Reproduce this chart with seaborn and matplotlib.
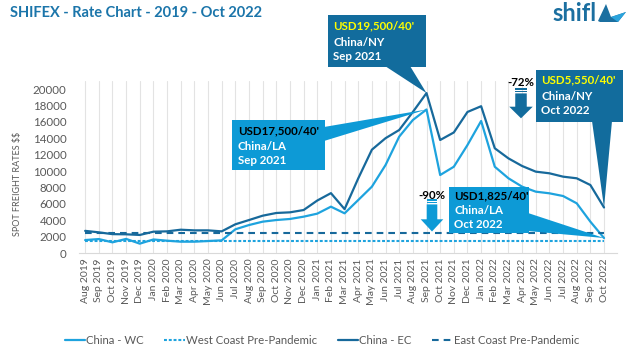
import numpy as np
import pandas as pd
import matplotlib
matplotlib.use('Agg')
import matplotlib.pyplot as plt
import seaborn as sns
from matplotlib.patches import Polygon, Rectangle

# Monthly spot rates (USD / 40')
months = ['Aug 2019', 'Sep 2019', 'Oct 2019', 'Nov 2019', 'Dec 2019', 'Jan 2020', 'Feb 2020',
          'Mar 2020', 'Apr 2020', 'May 2020', 'Jun 2020', 'Jul 2020', 'Aug 2020', 'Sep 2020',
          'Oct 2020', 'Nov 2020', 'Dec 2020', 'Jan 2021', 'Feb 2021', 'Mar 2021', 'Apr 2021',
          'May 2021', 'Jun 2021', 'Jul 2021', 'Aug 2021', 'Sep 2021', 'Oct 2021', 'Nov 2021',
          'Dec 2021', 'Jan 2022', 'Feb 2022', 'Mar 2022', 'Apr 2022', 'May 2022', 'Jun 2022',
          'Jul 2022', 'Aug 2022', 'Sep 2022', 'Oct 2022']
china_wc = [1580, 1700, 1300, 1720, 1140, 1650, 1500, 1380, 1380, 1460, 1540, 2890, 3410,
            3820, 4020, 4150, 4430, 4800, 5650, 4840, 6460, 8090, 10730, 14190, 16220, 17500,
            9510, 10520, 13170, 16100, 10520, 9110, 8090, 7480, 7280, 6950, 6060, 3820, 1825]
china_ec = [2700, 2520, 2300, 2280, 2200, 2600, 2640, 2840, 2760, 2760, 2640, 3500, 4020,
            4550, 4880, 4960, 5240, 6400, 7300, 5350, 9100, 12600, 14000, 15000, 17200, 19500,
            13780, 14700, 17200, 17900, 12770, 11540, 10610, 9920, 9720, 9310, 9110, 8290, 5550]
wc_pre_pandemic = 1500
ec_pre_pandemic = 2500
yticks = list(range(0, 20001, 2000))

LIGHT = '#1ea3de'
DARK = '#17699b'
BOX_LIGHT = '#0d9ad6'
BOX_DARK = '#126c9d'
GRAY = '#595959'

sns.set_style('white')
plt.rcParams['font.family'] = ['Lato', 'DejaVu Sans']

W, H = 638, 355
fig = plt.figure(figsize=(W / 100, H / 100), dpi=100)
ax = fig.add_axes([79 / W, 1 - 253 / H, 538 / W, (253 - 80.8) / H])

df = pd.DataFrame({'idx': range(len(months)), 'month': months,
                   'wc': china_wc, 'ec': china_ec,
                   'wc_pre': wc_pre_pandemic, 'ec_pre': ec_pre_pandemic})

sns.lineplot(data=df, x='idx', y='wc', color=LIGHT, lw=1.6, label='China - WC', ax=ax)
sns.lineplot(data=df, x='idx', y='wc_pre', color=LIGHT, lw=1.5, linestyle=(0, (1.4, 0.9)),
             label='West Coast Pre-Pandemic', ax=ax)
sns.lineplot(data=df, x='idx', y='ec', color=DARK, lw=1.6, label='China - EC', ax=ax)
sns.lineplot(data=df, x='idx', y='ec_pre', color=DARK, lw=1.5, linestyle=(0, (3.2, 2.4)),
             label='East Coast Pre-Pandemic', ax=ax)

ax.set_xlim(-0.45, 38.95)
ax.set_ylim(0, 21000)
ax.set_yticks(yticks)
ax.set_yticklabels([str(v) for v in yticks], fontsize=8.3, color=GRAY)
ax.set_xticks(df['idx'])
ax.set_xticklabels(months, rotation=90, fontsize=7.5, color=GRAY)
ax.tick_params(axis='x', length=0, pad=4)
ax.tick_params(axis='y', length=0, pad=9)
ax.set_xlabel('')
ax.set_ylabel('')
ax.grid(axis='x', color='#e3e3e3', lw=0.8)
ax.grid(axis='y', visible=False)
ax.set_axisbelow(True)
for s in ['left', 'top', 'right']:
    ax.spines[s].set_visible(False)
ax.spines['bottom'].set_color('#d9d9d9')

ax.legend(loc='center', bbox_to_anchor=(322 / W, 1 - 340 / H), bbox_transform=fig.transFigure,
          ncol=4, frameon=False, fontsize=8.2, handlelength=1.8, handletextpad=0.1,
          columnspacing=1.8, labelcolor=GRAY)

fig.text(10 / W, 1 - 13 / H, 'SHIFEX - Rate Chart - 2019 - Oct 2022', fontsize=10.5,
         fontweight='bold', color='#1b75aa', va='center', ha='left')
fig.text(18 / W, 1 - 184 / H, r'SPOT FREIGHT RATES \$\$', rotation=90, fontsize=6.5,
         color=GRAY, va='center', ha='center')


def px(x, y):
    return (x / W, 1 - y / H)


def point_px(i, v):
    dx, dy = ax.transData.transform((i, v))
    return dx, H - dy


def callout(box, base, tip, face, lines, first_color, text_x, text_ys):
    x0, y0, x1, y1 = box
    fig.add_artist(Rectangle(px(x0, y1), (x1 - x0) / W, (y1 - y0) / H, transform=fig.transFigure,
                             facecolor=face, edgecolor='none', zorder=5))
    fig.add_artist(Polygon([px(*base[0]), px(*base[1]), px(*tip)], closed=True,
                           transform=fig.transFigure, facecolor=face, edgecolor='none', zorder=5))
    for k, (txt, ty) in enumerate(zip(lines, text_ys)):
        fig.text(text_x / W, 1 - ty / H, txt, fontsize=8.3, fontweight='bold',
                 color=first_color if k == 0 else 'white', va='center', ha='left', zorder=6)


def down_arrow(cx, top, shaft_w, head_w, head_top, bottom, color):
    hw, hh = shaft_w / 2, head_w / 2
    fig.add_artist(Rectangle(px(cx - hw, top + 1.6), shaft_w / W, 1.6 / H, transform=fig.transFigure,
                             facecolor=color, edgecolor='none', zorder=5))
    fig.add_artist(Rectangle(px(cx - hw, top + 4.4), shaft_w / W, 1.6 / H, transform=fig.transFigure,
                             facecolor=color, edgecolor='none', zorder=5))
    fig.add_artist(Polygon([px(cx - hw, top + 5.4), px(cx + hw, top + 5.4), px(cx + hw, head_top),
                            px(cx + hh, head_top), px(cx, bottom), px(cx - hh, head_top),
                            px(cx - hw, head_top)], closed=True, transform=fig.transFigure,
                           facecolor=color, edgecolor='none', zorder=5))


sep21 = months.index('Sep 2021')
oct22 = months.index('Oct 2022')

callout((328, 15, 426, 67), [(385, 66), (410, 66)], point_px(sep21, china_ec[sep21]), BOX_DARK,
        ["USD19,500/40'", 'China/NY', 'Sep 2021'], '#ffff00', 333, [26, 42, 57])
callout((232, 120, 325, 170), [(324, 127), (324, 141)], point_px(sep21, china_wc[sep21]), BOX_LIGHT,
        ["USD17,500/40'", 'China/LA', 'Sep 2021'], 'black', 238, [131, 146, 160])
callout((536, 70, 623, 122), [(592, 121), (612, 121)], point_px(oct22, china_ec[oct22]), BOX_DARK,
        ["USD5,550/40'", 'China/NY', 'Oct 2022'], '#ffff00', 541, [80, 96, 110])
callout((449, 187, 529, 233), [(528, 213), (528, 231)], point_px(oct22, china_wc[oct22]), BOX_LIGHT,
        ["USD1,825/40'", 'China/LA', 'Oct 2022'], 'black', 454, [196, 211, 224])

down_arrow(432, 199, 10.6, 22.6, 219.3, 231.5, BOX_LIGHT)
fig.text(432 / W, 1 - 195 / H, '-90%', fontsize=8.3, fontweight='bold', color='black',
         ha='center', va='center')
down_arrow(521, 88, 11.5, 23.5, 106.7, 118.3, BOX_DARK)
fig.text(521 / W, 1 - 83 / H, '-72%', fontsize=8.3, fontweight='bold', color='black',
         ha='center', va='center')

# shifl logo
fig.text(552 / W, 1 - 21 / H, 'shifl', fontsize=17, fontweight='bold', color='#1b6fa0',
         ha='left', va='baseline')
fig.add_artist(Polygon([px(598, 21), px(606, 4), px(611, 17), px(626, 12), px(618, 22), px(600, 22)],
                       closed=True, transform=fig.transFigure, facecolor='#1b6fa0', edgecolor='none'))
fig.add_artist(Polygon([px(611, 17), px(626, 12), px(618, 22)], closed=True,
                       transform=fig.transFigure, facecolor='#2aa3dc', edgecolor='none'))

fig.savefig('out.png', dpi=100)
